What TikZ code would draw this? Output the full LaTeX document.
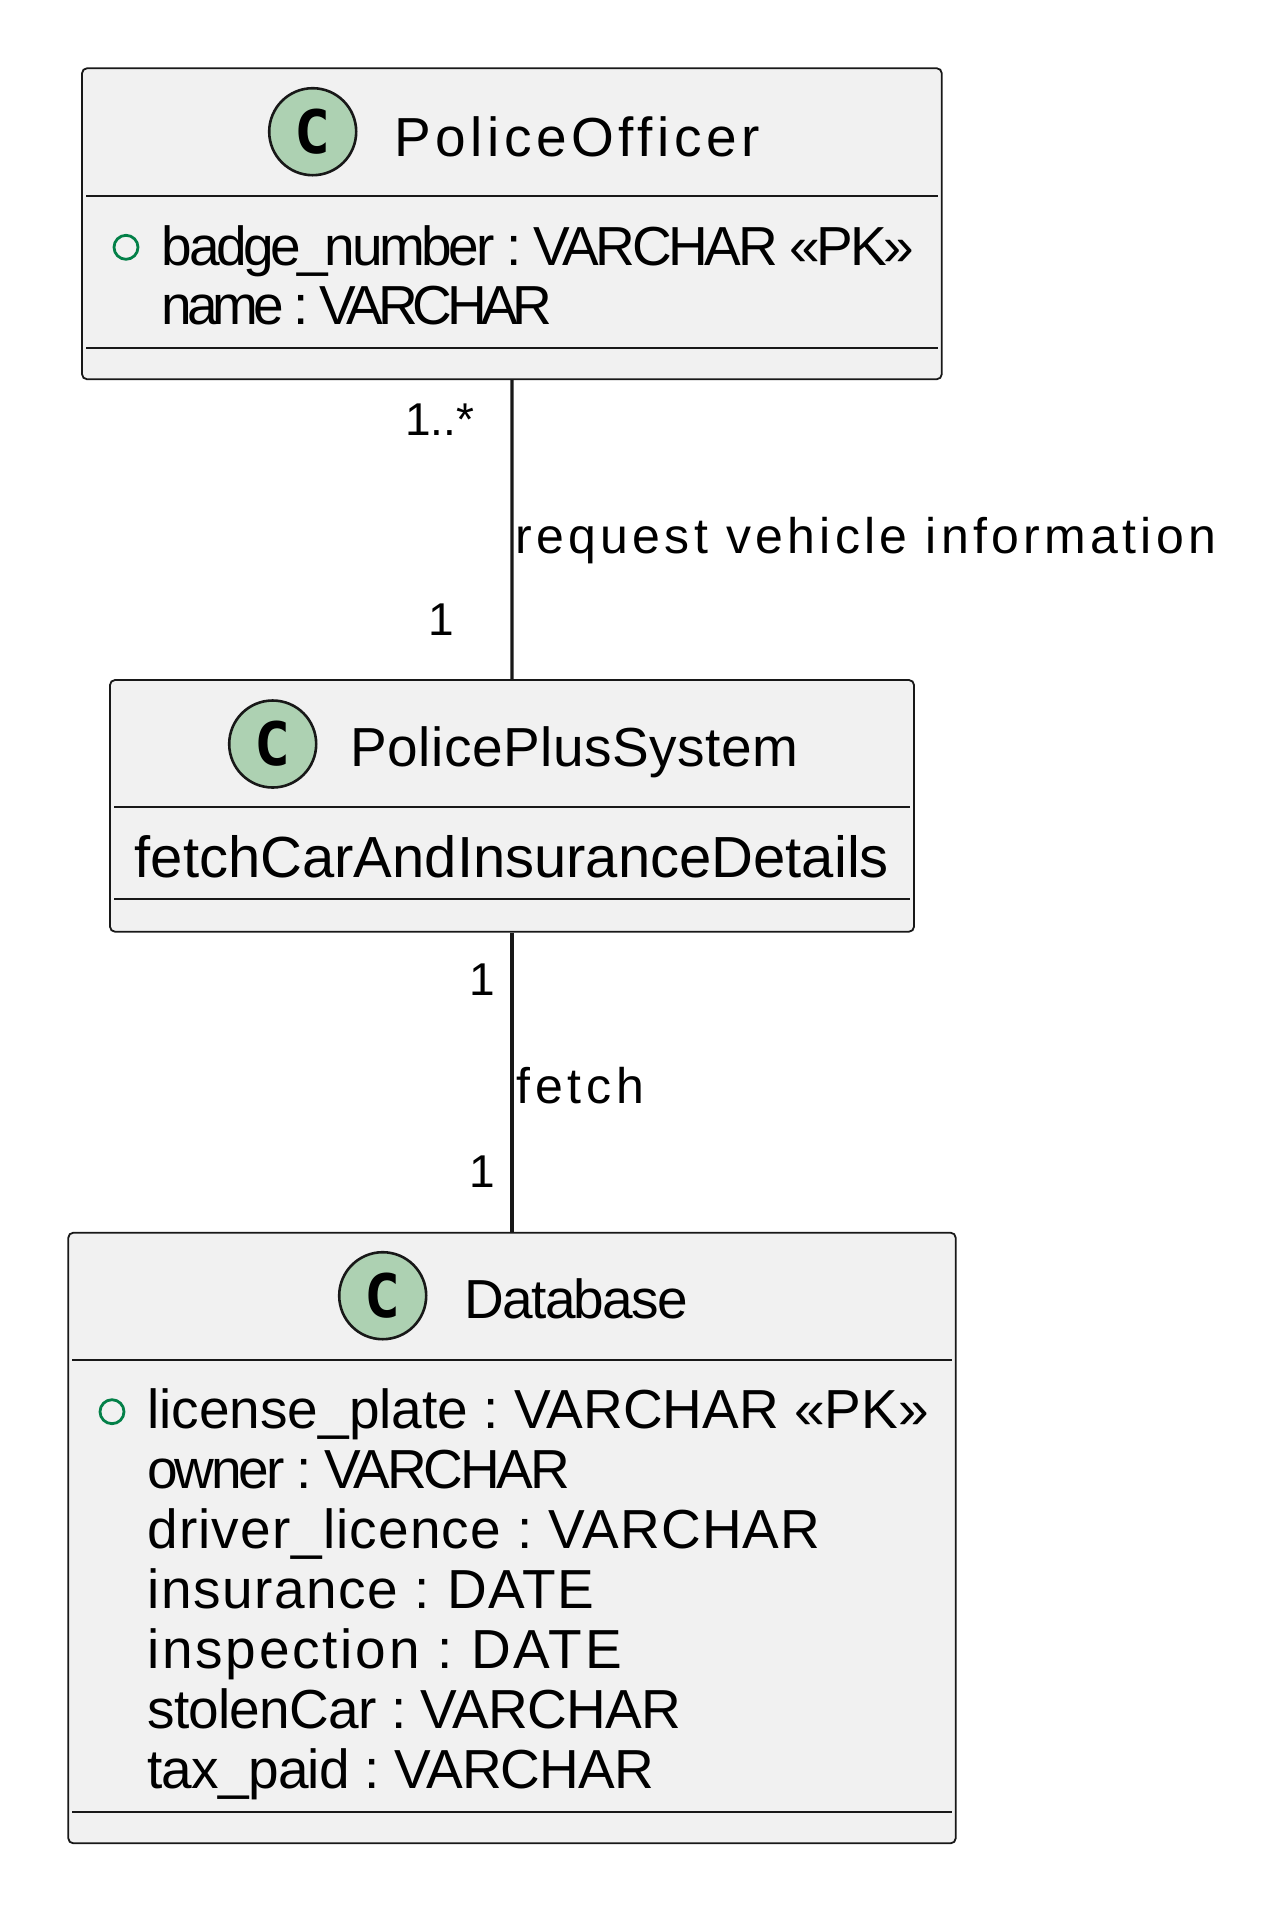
\documentclass[tikz,border=0pt]{standalone}
\usepackage{fontspec}
\setmainfont{Liberation Sans}
\newfontfamily\spotfont{DejaVu Sans Mono}
\usepackage{tikz}
\usetikzlibrary{positioning}
\definecolor{boxfill}{HTML}{F1F1F1}
\definecolor{boxline}{HTML}{181818}
\definecolor{spotgreen}{HTML}{ADD1B2}
\definecolor{pkgreen}{HTML}{038048}
\newcommand\trk[2]{{\addfontfeatures{LetterSpace=#1}#2}}
\frenchspacing

\begin{document}
\begin{tikzpicture}[x=0.5pt,y=-0.5pt,
  classbox/.style={draw=boxline,fill=boxfill,line width=0.9pt,rounded corners=2.5pt,inner sep=0pt},
  spot/.style={circle,draw=boxline,fill=spotgreen,line width=1.3pt,minimum size=43.5pt,inner sep=0pt,
    font=\spotfont\bfseries\fontsize{30}{30}\selectfont},
  pk/.style={circle,draw=pkgreen,line width=1.4pt,minimum size=12pt,inner sep=0pt},
  title/.style={anchor=base west,inner sep=0pt,font=\fontsize{27.5}{30}\selectfont},
  attr/.style={anchor=base west,inner sep=0pt,font=\fontsize{27.5}{30}\selectfont},
  mult/.style={anchor=base east,inner sep=0pt,font=\fontsize{23}{25}\selectfont},
  elabel/.style={anchor=base west,inner sep=0pt,font=\fontsize{25}{27}\selectfont},
  sep/.style={draw=boxline,line width=0.85pt},
  assoc/.style={draw=boxline,line width=1.6pt}]

  \useasboundingbox (0,0) rectangle (1288,1908);

  % Boxes
  \node[classbox,minimum width=429.85pt,minimum height=155.5pt] (po) at (511.9,223.75) {};
  \node[classbox,minimum width=402pt,minimum height=125.85pt] (pps) at (512,805.85) {};
  \node[classbox,minimum width=443.7pt,minimum height=305.3pt] (db) at (512,1538) {};

  % Compartment lines
  \draw[sep] (86,196) -- (938,196);
  \draw[sep] (86,348) -- (938,348);
  \draw[sep] (114,807.3) -- (910,807.3);
  \draw[sep] (114,899.3) -- (910,899.3);
  \draw[sep] (72,1360) -- (952,1360);
  \draw[sep] (72,1811.7) -- (952,1811.7);

  % PoliceOfficer
  \node[spot] (pospot) at (312.7,131.7) {C};
  \node[title] (potitle) at (393.7,156) {\trk{8.4}{PoliceOfficer}};
  \node[pk] (popk) at (126,247.3) {};
  \node[attr] (poa0) at (161.5,265) {\trk{-6.2}{badge\_number : VARCHAR «PK»}};
  \node[attr] (poa1) at (161.5,324.5) {\trk{-9.5}{name : VARCHAR}};

  % PolicePlusSystem
  \node[spot] (ppsspot) at (272.7,744) {C};
  \node[title] (ppstitle) at (350,766.7) {\trk{1}{PolicePlusSystem}};
  \node[attr,font=\fontsize{29}{30}\selectfont] (ppsm0) at (134.3,877.7) {fetchCarAndInsuranceDetails};

  % Database
  \node[spot] (dbspot) at (382.7,1295.7) {C};
  \node[title] (dbtitle) at (464,1318.3) {\trk{-3}{Database}};
  \node[pk] (dbpk) at (112,1411.7) {};
  \foreach \txt/\ls [count=\i from 0] in {license\_plate : VARCHAR «PK»/0,
      owner : VARCHAR/-5.7, driver\_licence : VARCHAR/2, insurance : DATE/2.8,
      inspection : DATE/5, stolenCar : VARCHAR/-1.4, tax\_paid : VARCHAR/-1.4}
    \node[attr] (dba\i) at (147,1428.3+60*\i) {\trk{\ls}{\txt}};

  % Manually draw edges
  \draw[assoc] (po) -- (pps);
  \draw[assoc] (pps) -- (db);

  % Edge labels
  \node[mult] (m1) at (474.5,435.5) {1..*};
  \node[mult] (m2) at (454,635) {1};
  \node[elabel] (l1) at (515,553.3) {\trk{8.6}{request vehicle information}};
  \node[mult] (m3) at (495,995.7) {1};
  \node[elabel] (l2) at (516,1103.3) {\trk{9.5}{fetch}};
  \node[mult] (m4) at (495,1187.7) {1};

\end{tikzpicture}
\end{document}
